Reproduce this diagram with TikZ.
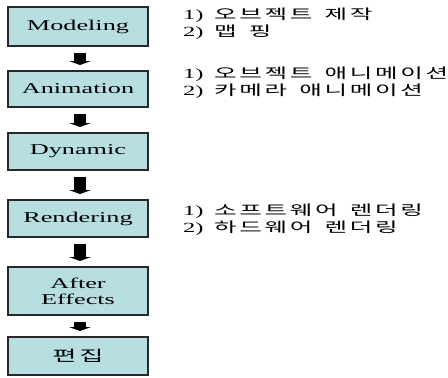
\documentclass[tikz,border=0pt]{standalone}
\usepackage{fontspec}
\setmainfont{Liberation Serif}
\newfontfamily\kr{Noto Sans CJK KR}
\newfontfamily\krw{Noto Sans CJK KR}[LetterSpace=11,WordSpace=1.5]
\usetikzlibrary{arrows.meta}
\definecolor{boxfill}{RGB}{183,223,226}
\definecolor{boxline}{RGB}{40,40,40}
\newcommand{\widetext}[1]{\scalebox{1.75}[1]{#1}}
\newcommand{\listline}[2]{\widetext{#1\hspace{6pt}{\krw #2}}}
\tikzset{
  stagebox/.style={draw=boxline, line width=2pt, fill=boxfill, minimum width=140pt,
    inner sep=0pt, align=center, font=\fontsize{15}{17}\selectfont},
  blockarrow/.style={line width=12pt, draw=black, -{Triangle[width=22pt,length=4pt]}},
  listtext/.style={anchor=west, inner sep=0pt, font=\fontsize{14}{16}\selectfont}
}
\begin{document}
\begin{tikzpicture}[x=1pt,y=-1pt]
\useasboundingbox (0,0) rectangle (448,378);
\node[stagebox, minimum height=39pt] (mod) at (78,26.5) {\widetext{Modeling}};
\node[stagebox, minimum height=36pt] (ani) at (78,89) {\widetext{Animation}};
\node[stagebox, minimum height=37pt] (dyn) at (78,151.5) {\widetext{Dynamic}};
\node[stagebox, minimum height=37pt] (ren) at (78,218.5) {\widetext{Rendering}};
\node[stagebox, minimum height=48pt] (aft) at (78,291) {\widetext{After}\\[-1pt]\widetext{Effects}};
\node[stagebox, minimum height=38pt] (edt) at (78,356) {\widetext{\krw 편집}};
\foreach \a/\b in {mod/ani, ani/dyn, dyn/ren, ren/aft, aft/edt}
  \draw[blockarrow] ([xshift=2pt,yshift=-6pt]\a.south) -- ([xshift=2pt,yshift=5pt]\b.north);
\node[listtext] (m1) at (183,15) {\listline{1)}{오브젝트 제작}};
\node[listtext] (m2) at (183,32) {\listline{2)}{맵 핑}};
\node[listtext] (a1) at (183,74) {\listline{1)}{오브젝트 애니메이션}};
\node[listtext] (a2) at (183,91) {\listline{2)}{카메라 애니메이션}};
\node[listtext] (r1) at (183,211) {\listline{1)}{소프트웨어 렌더링}};
\node[listtext] (r2) at (183,228) {\listline{2)}{하드웨어 렌더링}};
\end{tikzpicture}
\end{document}
